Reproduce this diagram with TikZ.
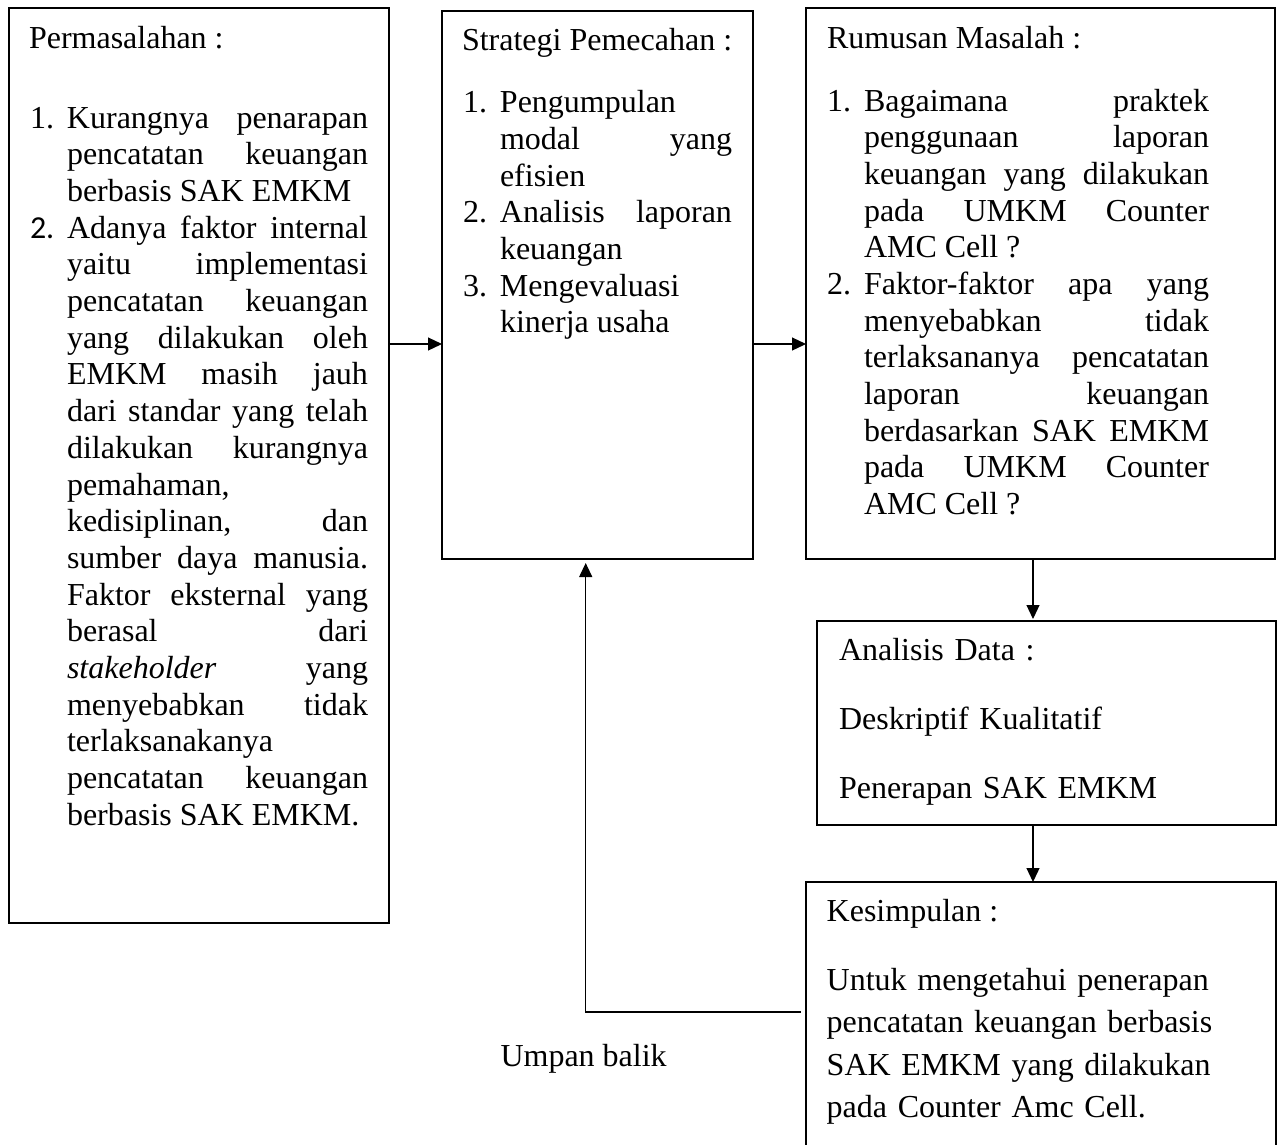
\documentclass[tikz,border=0pt]{standalone}
\usepackage{fontspec}
\setmainfont{Liberation Serif}
\newfontfamily\calfont{Carlito}
\usetikzlibrary{arrows.meta,calc}
\newcommand{\myitem}[2]{\hangindent=37pt\hangafter=1\noindent\makebox[37pt][l]{#1}#2\par}
\newcommand{\jset}{\tolerance=10000\hyphenpenalty=10000\exhyphenpenalty=10000\relax}
\begin{document}
\begin{tikzpicture}[x=1pt,y=-1pt,
  box/.style={draw=black, line width=1.2pt, rectangle, inner sep=0pt, outer sep=0pt, anchor=north west},
  txt/.style={inner sep=0pt, outer sep=0pt, anchor=base west, font=\fontsize{32}{36.67}\selectfont},
  jtxt/.style={txt, align=justify},
  ltxt/.style={txt, align=left},
  arr/.style={line width=1.2pt, -{Triangle[length=14pt,width=13pt]}}
]
\useasboundingbox (0,0) rectangle (1279,1144);

% boxes
\node[box, minimum width=380pt, minimum height=915pt] (b1) at (9,8) {};
\node[box, minimum width=311pt, minimum height=548pt] (b2) at (442,11) {};
\node[box, minimum width=469pt, minimum height=551pt] (b3) at (806,8) {};
\node[box, minimum width=459pt, minimum height=204pt] (b4) at (817,621) {};
\node[box, minimum width=470pt, minimum height=300pt] (b5) at (806,882) {};

% box 1
\node[txt] (t1h) at (29,48) {Permasalahan :};
\node[jtxt, text width=338pt] (t1) at (30,128.3) {\jset%
\myitem{1.}{Kurangnya penarapan\linebreak pencatatan keuangan\linebreak berbasis SAK EMKM}%
\myitem{{\calfont 2.}}{Adanya faktor internal\linebreak yaitu implementasi\linebreak pencatatan keuangan\linebreak yang dilakukan oleh\linebreak EMKM masih jauh\linebreak dari standar yang telah\linebreak dilakukan kurangnya\linebreak pemahaman,\linebreak kedisiplinan, dan\linebreak sumber daya manusia.\linebreak Faktor eksternal yang\linebreak berasal dari\linebreak \textit{stakeholder} yang\linebreak menyebabkan tidak\linebreak terlaksanakanya\linebreak pencatatan keuangan\linebreak berbasis SAK EMKM.}};

% box 2
\node[txt] (t2h) at (462,50) {Strategi Pemecahan :};
\node[jtxt, text width=269pt] (t2) at (463,112.8) {\jset%
\myitem{1.}{Pengumpulan\linebreak modal yang\linebreak efisien}%
\myitem{2.}{Analisis laporan\linebreak keuangan}%
\myitem{3.}{Mengevaluasi\linebreak kinerja usaha}};

% box 3
\node[txt] (t3h) at (827,48) {Rumusan Masalah :};
\node[jtxt, text width=382pt] (t3) at (827,111) {\jset%
\myitem{1.}{Bagaimana praktek\linebreak penggunaan laporan\linebreak keuangan yang dilakukan\linebreak pada UMKM Counter\linebreak AMC Cell ?}%
\myitem{2.}{Faktor-faktor apa yang\linebreak menyebabkan tidak\linebreak terlaksananya pencatatan\linebreak laporan keuangan\linebreak berdasarkan SAK EMKM\linebreak pada UMKM Counter\linebreak AMC Cell ?}};

% box 4
\node[ltxt, text width=420pt, font=\fontsize{32}{69}\selectfont] (t4) at (839,660.6) {Analisis Data :\\Deskriptif Kualitatif\\Penerapan SAK EMKM};

% box 5
\node[txt] (t5h) at (826.7,921) {Kesimpulan :};
\node[ltxt, text width=440pt, font=\fontsize{32}{42.5}\selectfont] (t5) at (826.7,990) {Untuk mengetahui penerapan\\pencatatan keuangan berbasis\\SAK EMKM yang dilakukan\\pada Counter Amc Cell.};

% feedback label
\node[txt] (ub) at (500.5,1066.5) {Umpan balik};

% connectors
\coordinate (h1) at (0,344);
\coordinate (v1) at (1033,0);
\coordinate (fb) at (585.7,1012);
\draw[arr] (b1.east |- h1) -- (b2.west |- h1);
\draw[arr] (b2.east |- h1) -- (b3.west |- h1);
\draw[arr] (b3.south -| v1) -- ($(b4.north -| v1)+(0,-2)$);
\draw[arr] (b4.south -| v1) -- (b5.north -| v1);
\draw[arr] ($(b5.west |- fb)+(-5,0)$) -| ($(b2.south -| fb)+(0,4)$);
\end{tikzpicture}
\end{document}
